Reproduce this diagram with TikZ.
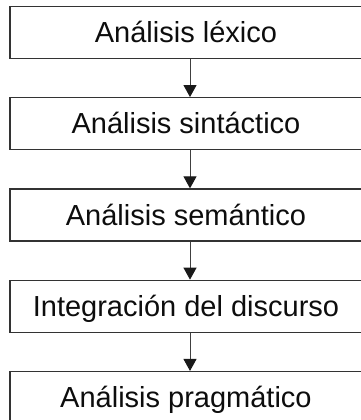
\documentclass[tikz,border=0pt]{standalone}
\usepackage{fontspec}
\setmainfont{Liberation Sans}
\usepackage{xcolor}
\usepackage{tikz}
\usetikzlibrary{matrix, arrows.meta}

\begin{document}
\begin{tikzpicture}[x=1pt, y=1pt]
\useasboundingbox (0,0) rectangle (360,-420);
\matrix (F)[matrix of nodes, row sep=38pt, anchor=center, nodes={draw=black!80, line width=1.3pt, text=black!95, anchor=center, align=center, inner xsep=0pt, inner ysep=0pt, minimum width=360pt, text height=36pt, text depth=16pt, font=\fontsize{29}{34}\selectfont}] at (190,-215) {
Análisis léxico \\
Análisis sintáctico \\
Análisis semántico \\
Integración del discurso \\
Análisis pragmático \\
};
\foreach \i/\j in {1/2, 2/3, 3/4, 4/5}
  \draw[black!75, line width=1pt, -{Triangle[width=13pt, length=12pt, black!90]}] (F-\i-1.south) -- (F-\j-1.north);
\end{tikzpicture}
\end{document}
